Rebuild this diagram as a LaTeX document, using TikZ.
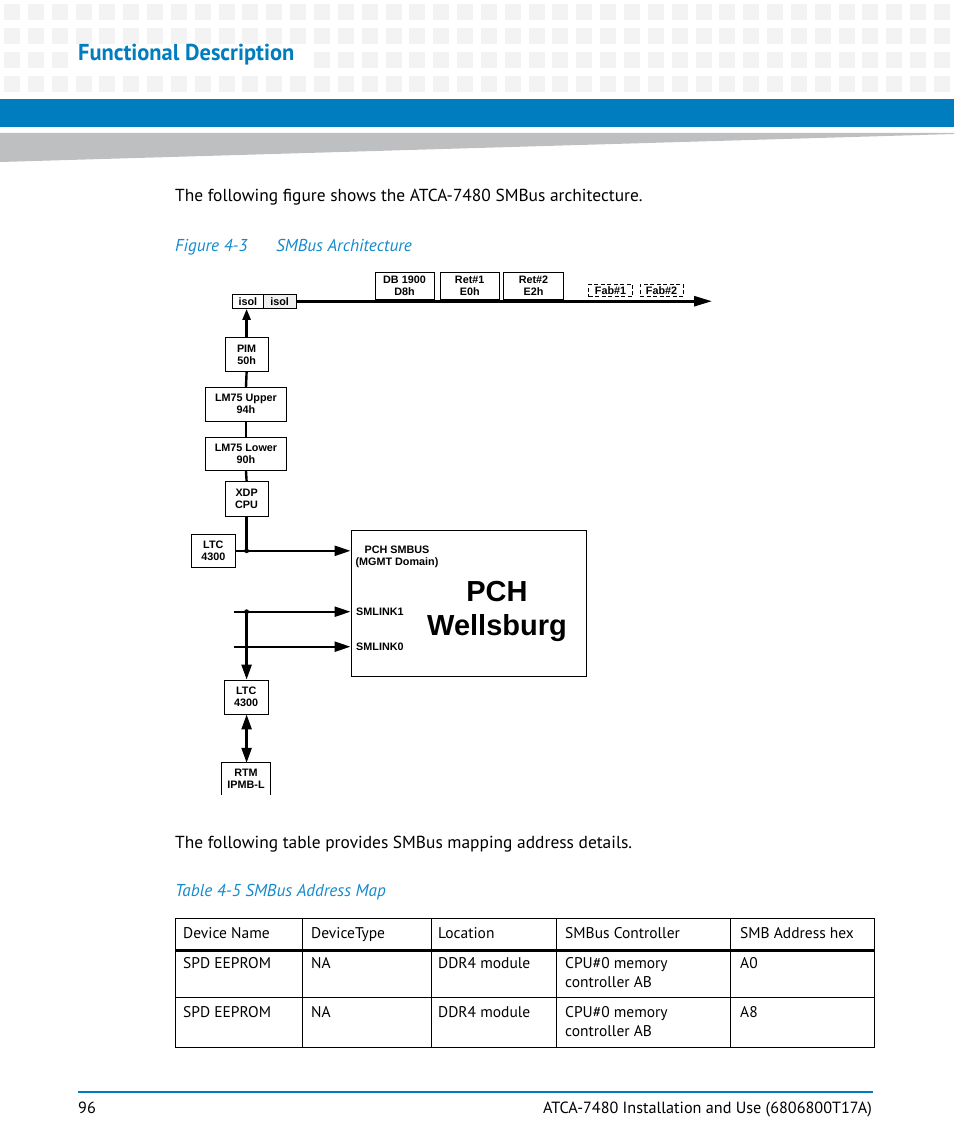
\documentclass[tikz,border=0pt]{standalone}
\usepackage{fontspec}
\usepackage{graphicx}
\setmainfont{PT Sans}
\newfontfamily\diag{Liberation Sans}
\usetikzlibrary{arrows.meta}
\definecolor{bandblue}{RGB}{0,125,190}
\definecolor{capblue}{RGB}{20,138,205}
\definecolor{sqgrey}{RGB}{243,243,243}
\definecolor{wedgegrey}{RGB}{190,191,193}
\newcommand\dgf{\diag\bfseries\fontsize{10.8}{12}\selectfont}
\newcommand\bodyf{\fontsize{17.4}{20}\selectfont}
\newcommand\tabf{\fontsize{15.5}{18}\selectfont}
\begin{document}
\begin{tikzpicture}[x=1pt,y=-1pt,
  box/.style={draw,line width=0.9pt,inner sep=0pt,font=\dgf,align=center},
  dashbox/.style={box,dashed,dash pattern=on 4pt off 2.5pt},
  conn/.style={line width=2.4pt},
  tip/.style={-{Triangle[length=16pt,width=10pt]}},
  bodytext/.style={anchor=base west,inner sep=0pt,font=\bodyf},
  captext/.style={anchor=base west,inner sep=0pt,font=\fontsize{17.2}{20}\selectfont\itshape,text=capblue},
  tabtext/.style={anchor=base west,inner sep=0pt,font=\tabf,align=left},
  tabline/.style={line width=0.8pt}]
\useasboundingbox (0,0) rectangle (954,1145);
% header squares
\foreach \r in {0,...,3}{
  \foreach \c in {0,...,39}{
    \fill[sqgrey] ({4+\c*23.846},{4+\r*24}) rectangle ++(16,16);
  }
}
\fill[white] (72,46) rectangle (312,72);
\node[anchor=base west,inner sep=0pt,text=bandblue,font=\bfseries\fontsize{23}{26}\selectfont] (title) at (78,61) {\scalebox{0.975}[1]{Functional Description}};
\fill[bandblue] (0,99) rectangle (954,127);
\fill[wedgegrey] (0,133) -- (954,133) -- (954,134) -- (0,162) -- cycle;

% body texts
\node[bodytext] (t1) at (175,201) {The following figure shows the ATCA-7480 SMBus architecture.};
\node[captext] (cap1) at (175,251.5) {Figure 4-3};
\node[captext] (cap1b) at (276,251.5) {SMBus Architecture};

% diagram
\node[box,minimum width=31pt,minimum height=14.5pt] (isol1) at (247.8,301.2) {isol};
\node[box,fill=black!6,minimum width=32.7pt,minimum height=14.5pt] (isol2) at (279.6,301.2) {isol};
\node[box,minimum width=59pt,minimum height=27.3pt] (db) at (404.5,285.6) {DB 1900\\D8h};
\node[box,minimum width=59.3pt,minimum height=27.3pt] (ret1) at (469.7,285.6) {Ret\#1\\E0h};
\node[box,minimum width=59.6pt,minimum height=27.3pt] (ret2) at (533.5,285.6) {Ret\#2\\E2h};
\node[dashbox,minimum width=44pt,minimum height=12.5pt] (fab1) at (610.5,290.5) {Fab\#1};
\node[dashbox,minimum width=43pt,minimum height=12.5pt] (fab2) at (661.5,290.5) {Fab\#2};
\coordinate (busend) at (712,301.2);
\draw[conn,line width=2.6pt,-{Triangle[length=18pt,width=10pt]}] (isol2.east) -- (busend);

\node[box,minimum width=43.3pt,minimum height=34.4pt] (pim) at (246.6,354.5) {PIM\\50h};
\node[box,minimum width=81.4pt,minimum height=33.7pt] (lmu) at (246,404.2) {LM75 Upper\\94h};
\node[box,minimum width=81.4pt,minimum height=33.4pt] (lml) at (246,454) {LM75 Lower\\90h};
\node[box,minimum width=43.3pt,minimum height=35pt] (xdp) at (246.6,499.2) {XDP\\CPU};
\node[box,minimum width=43.3pt,minimum height=33.7pt] (ltc1) at (213.3,550.8) {LTC\\4300};
\node[box,minimum width=235pt,minimum height=146.7pt] (pch) at (468.5,603.3) {};
\node[box,minimum width=44.3pt,minimum height=34pt] (ltc2) at (246.2,697) {LTC\\4300};
\node[font=\dgf,align=center,inner sep=0pt,minimum width=48pt,minimum height=32pt] (rtm) at (246,779) {RTM\\IPMB-L};
\draw[line width=0.9pt] (rtm.south west) -- (rtm.north west) -- (rtm.north east) -- (rtm.south east);

\node[font=\dgf,align=center,inner sep=0pt] (smbus) at (397,556.5) {PCH SMBUS\\(MGMT Domain)};
\node[font=\dgf,anchor=west,inner sep=0pt] (sl1) at (356,611.7) {SMLINK1};
\node[font=\dgf,anchor=west,inner sep=0pt] (sl0) at (356,646.7) {SMLINK0};
\node[font=\diag\bfseries\fontsize{29}{34}\selectfont,align=center,inner sep=0pt] (pchname) at (497,611) {PCH\\Wellsburg};

\coordinate (j0) at (pim.south |- ltc1.east);
\coordinate (s1) at (234,611.7);
\coordinate (s0) at (234,646.7);
\coordinate (j1) at (pim.south |- s1);

\draw[conn,-{Triangle[length=11pt,width=8pt]}] (pim.north) -- (pim.north |- isol1.south);
\draw[conn] (pim.south) -- (lmu.north);
\draw[conn] (lmu.south) -- (lml.north);
\draw[conn] (lml.south) -- (xdp.north);
\draw[conn] (xdp.south) -- (j0);
\draw[conn,tip] (ltc1.east) -- (ltc1.east -| pch.west);
\draw[conn,tip] (s1) -- (s1 -| pch.west);
\draw[conn,tip] (s0) -- (s0 -| pch.west);
\draw[conn,-{Triangle[length=15pt,width=10pt]}] (j1) -- (j1 |- ltc2.north);
\draw[conn,{Triangle[length=15pt,width=10pt]}-{Triangle[length=15pt,width=10pt]}] (j1 |- ltc2.south) -- (j1 |- rtm.north);
\fill (j0) circle (2.4);
\fill (j1) circle (2.4);

% table
\node[bodytext] (t2) at (175,848) {The following table provides SMBus mapping address details.};
\node[captext] (cap2) at (175,896.5) {Table 4-5 SMBus Address Map};

\draw[tabline] (175,918) rectangle (874,1047);
\foreach \xx in {302.7,431.8,556.3,730.7} \draw[tabline] (\xx,918) -- (\xx,1047);
\draw[line width=3pt] (175,950.5) -- (874,950.5);
\draw[tabline] (175,997.5) -- (874,997.5);

\node[tabtext] (h1) at (183,938) {Device Name};
\node[tabtext] (h2) at (311,938) {DeviceType};
\node[tabtext] (h3) at (438,938) {Location};
\node[tabtext] (h4) at (565,938) {SMBus Controller};
\node[tabtext] (h5) at (740,938) {SMB Address hex};

\node[tabtext] (a1) at (183,968) {SPD EEPROM};
\node[tabtext] (a2) at (311,968) {NA};
\node[tabtext] (a3) at (438,968) {DDR4 module};
\node[tabtext] (a4) at (565,968) {CPU\#0 memory};
\node[tabtext] (a4b) at (565,987) {controller AB};
\node[tabtext] (a5) at (740,968) {A0};

\node[tabtext] (b1) at (183,1017) {SPD EEPROM};
\node[tabtext] (b2) at (311,1017) {NA};
\node[tabtext] (b3) at (438,1017) {DDR4 module};
\node[tabtext] (b4) at (565,1017) {CPU\#0 memory};
\node[tabtext] (b4b) at (565,1036) {controller AB};
\node[tabtext] (b5) at (740,1017) {A8};

% footer
\draw[bandblue,line width=2pt] (78,1092) -- (873,1092);
\node[anchor=base west,inner sep=0pt,font=\fontsize{16.2}{19}\selectfont] (pg) at (78,1113) {96};
\node[anchor=base east,inner sep=0pt,font=\fontsize{16.2}{19}\selectfont] (ft) at (872,1113) {ATCA-7480 Installation and Use (6806800T17A)};
\end{tikzpicture}
\end{document}
